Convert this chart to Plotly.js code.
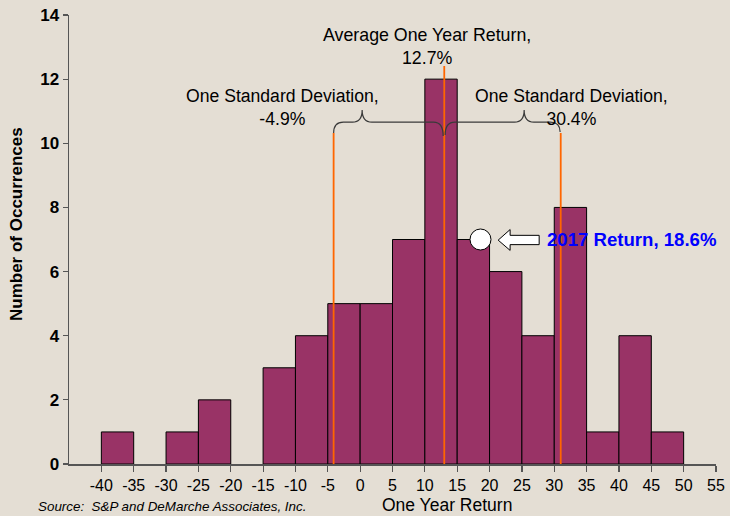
<!DOCTYPE html>
<html>
<head>
<meta charset="utf-8">
<script src="https://cdn.plot.ly/plotly-3.0.1.min.js"></script>
<style>html,body{margin:0;padding:0;background:#e4ded4;}#chart{width:730px;height:516px;}</style>
</head>
<body>
<div id="chart"></div>
<script>
// Histogram bins (left edge of each 5-point bin) and counts
var binStarts = [-40, -35, -30, -25, -20, -15, -10, -5, 0, 5, 10, 15, 20, 25, 30, 35, 40, 45];
var counts    = [  1,   0,   1,   2,   0,   3,   4,  5, 5, 7, 12,  7,  6,  4,  8,  1,  4,  1];
var binWidth = 5;
var xTicks = [-40, -35, -30, -25, -20, -15, -10, -5, 0, 5, 10, 15, 20, 25, 30, 35, 40, 45, 50, 55];
var yTicks = [0, 2, 4, 6, 8, 10, 12, 14];

// Reference lines (as drawn in the picture): -1 SD, mean, +1 SD
var refLineX   = [-4.1, 13.0, 31.0];
var refLineTop = [10.32, 12.41, 10.32];

// 2017 point
var point2017X = [18.6];
var point2017Y = [7];

var F = '"Liberation Sans", Arial, sans-serif';

var traces = [
  {
    type: 'bar',
    x: binStarts,
    y: counts,
    width: binStarts.map(function(){return binWidth;}),
    offset: 0,
    marker: {color: '#993366', line: {color: '#000000', width: counts.map(function(c){return c > 0 ? 1 : 0;})}},
    hoverinfo: 'skip'
  },
  {
    type: 'scatter',
    mode: 'markers',
    x: point2017X,
    y: point2017Y,
    marker: {size: 21, color: '#ffffff', line: {color: '#000000', width: 1}},
    hoverinfo: 'skip',
    cliponaxis: false
  }
];

var shapes = [];
for (var i = 0; i < refLineX.length; i++) {
  shapes.push({type: 'line', xref: 'x', yref: 'y', x0: refLineX[i], x1: refLineX[i], y0: 0, y1: refLineTop[i],
    line: {color: '#ff6600', width: 1.8}, layer: 'above'});
}

function brace(x0, y0, xt, yb, yt, x1, y1) {
  var r = 1.5;
  return 'M ' + x0 + ',' + y0 +
    ' Q ' + x0 + ',' + yb + ' ' + (x0 + r) + ',' + yb +
    ' L ' + (xt - r) + ',' + yb +
    ' Q ' + xt + ',' + yb + ' ' + xt + ',' + yt +
    ' Q ' + xt + ',' + yb + ' ' + (xt + r) + ',' + yb +
    ' L ' + (x1 - r) + ',' + yb +
    ' Q ' + x1 + ',' + yb + ' ' + x1 + ',' + y1;
}
shapes.push({type: 'path', xref: 'x', yref: 'y', path: brace(-4.1, 10.32, 0.31, 10.66, 11.04, 12.83, 10.23),
  line: {color: '#3a3a3a', width: 1.2}, layer: 'above'});
shapes.push({type: 'path', xref: 'x', yref: 'y', path: brace(13.14, 10.26, 25.35, 10.66, 11.04, 30.91, 10.35),
  line: {color: '#3a3a3a', width: 1.2}, layer: 'above'});

// block arrow pointing at the 2017 point
shapes.push({type: 'path', xref: 'x', yref: 'y',
  path: 'M 21.33,6.98 L 23.18,7.31 L 23.18,7.13 L 27.67,7.13 L 27.67,6.84 L 23.18,6.84 L 23.18,6.66 Z',
  fillcolor: '#ffffff', line: {color: '#000000', width: 1}, layer: 'above'});

var annotations = [
  {xref: 'x', yref: 'y', x: 10.35, y: 13.03, text: 'Average One Year Return,<br>12.7%', showarrow: false,
   font: {family: F, size: 17.8, color: '#000'}, align: 'center', xanchor: 'center', yanchor: 'middle'},
  {xref: 'x', yref: 'y', x: -12.06, y: 11.12, text: 'One Standard Deviation,<br>-4.9%', showarrow: false,
   font: {family: F, size: 17.6, color: '#000'}, align: 'center', xanchor: 'center', yanchor: 'middle'},
  {xref: 'x', yref: 'y', x: 32.6, y: 11.12, text: 'One Standard Deviation,<br>30.4%', showarrow: false,
   font: {family: F, size: 17.6, color: '#000'}, align: 'center', xanchor: 'center', yanchor: 'middle'},
  {xref: 'x', yref: 'y', x: 28.6, y: 7, text: '2017 Return, 18.6%', showarrow: false,
   font: {family: F, size: 18.6, color: '#0000ff', weight: 'bold'}, xanchor: 'left', yanchor: 'middle'},
  {xref: 'paper', yref: 'paper', x: (447 - 69) / 647, y: -(505 - 464) / 449, text: 'One Year Return', showarrow: false,
   font: {family: F, size: 17.5, color: '#000'}, xanchor: 'center', yanchor: 'middle'},
  {xref: 'paper', yref: 'paper', x: (36 - 69) / 647, y: -(506 - 464) / 449, text: '<i>Source:  S&amp;P and DeMarche Associates, Inc.</i>', showarrow: false,
   font: {family: F, size: 13.4, color: '#000'}, xanchor: 'left', yanchor: 'middle'},
  {xref: 'paper', yref: 'paper', x: (17 - 69) / 647, y: (464 - 224) / 449, text: 'Number of Occurrences', showarrow: false,
   textangle: -90, font: {family: F, size: 17, color: '#000', weight: 'bold'}, xanchor: 'center', yanchor: 'middle'}
];

var layout = {
  width: 730, height: 516,
  margin: {l: 69, r: 14, t: 15, b: 52},
  paper_bgcolor: '#e4ded4',
  plot_bgcolor: '#e4ded4',
  showlegend: false,
  hovermode: false,
  bargap: 0,
  xaxis: {
    range: [-45, 55], tickmode: 'array', tickvals: xTicks, ticktext: xTicks.map(String),
    showgrid: false, zeroline: false, showline: true, linecolor: '#555', linewidth: 1.5,
    ticks: 'outside', ticklen: 6, tickcolor: '#555', tickwidth: 1.2,
    tickfont: {family: F, size: 16, color: '#000'}
  },
  yaxis: {
    range: [0, 14], tickmode: 'array', tickvals: yTicks, ticktext: yTicks.map(String),
    showgrid: false, zeroline: false, showline: true, linecolor: '#555', linewidth: 1.5,
    ticks: 'outside', ticklen: 5, tickcolor: '#555', tickwidth: 1.2,
    tickfont: {family: F, size: 17, color: '#000', weight: 'bold'}
  },
  shapes: shapes,
  annotations: annotations
};

Plotly.newPlot('chart', traces, layout, {displayModeBar: false, staticPlot: true});
</script>
</body>
</html>
